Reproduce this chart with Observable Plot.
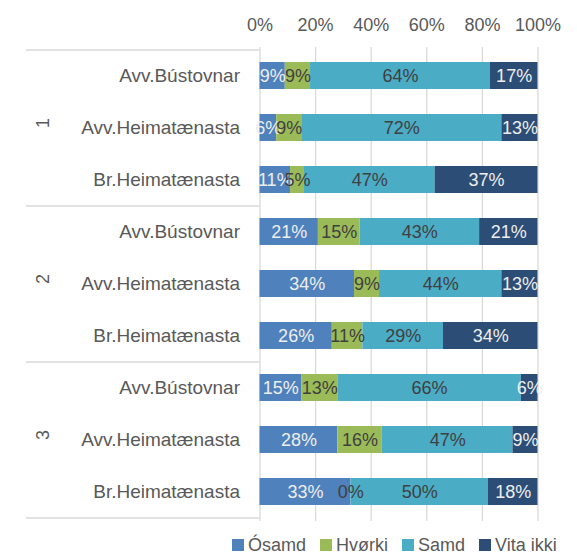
<!DOCTYPE html>
<html><head><meta charset="utf-8">
<script src="https://cdn.jsdelivr.net/npm/d3@7"></script>
<script src="https://cdn.jsdelivr.net/npm/@observablehq/plot@0.6"></script>
<style>
body{margin:0;background:#fff;font-family:"Liberation Sans",Arial,sans-serif;}
#legend{display:flex;align-items:center;margin-left:232px;height:26px;font-size:18px;color:#595959;padding-top:4px;}
.item{display:flex;align-items:center;margin-right:14px;}
.sw{width:12px;height:12px;margin-right:4px;}
</style></head><body><div id="chart"></div><div id="legend"></div><script>
const groups = ["1","2","3"];
const subs = ["Avv.Bústovnar","Avv.Heimatænasta","Br.Heimatænasta"];
const categories = ["Ósamd","Hvørki","Samd","Vita ikki"];
const colors = ["#4f81bd","#9bbb59","#4bacc6","#2c4d75"];
const labelColors = ["#eeeeee","#404040","#404040","#eeeeee"];
const osamd    = [9, 6, 11, 21, 34, 26, 15, 28, 33];
const hvorki   = [9, 9, 5, 15, 9, 11, 13, 16, 0];
const samd     = [64, 72, 47, 43, 44, 29, 66, 47, 50];
const vitaIkki = [17, 13, 37, 21, 13, 34, 6, 9, 18];
const xTicks = [0, 0.2, 0.4, 0.6, 0.8, 1];

const series = [osamd, hvorki, samd, vitaIkki];
const rowKeys = [];
groups.forEach(g => subs.forEach(s => rowKeys.push(g + "|" + s)));
const long = [];
rowKeys.forEach((row, i) => categories.forEach((cat, c) => long.push({row, cat, value: series[c][i]})));
const groupData = groups.map((g, i) => ({g, mid: rowKeys[i * 3 + 1], first: rowKeys[i * 3]}));

const W = 577, H = 528, mTop = 50, mBottom = 10;
const step = (H - mTop - mBottom) / rowKeys.length;
const font = '"Liberation Sans", Arial, sans-serif';

const labelMark = (cats, color) => Plot.text(long, Plot.filter(d => cats.includes(d.cat),
  Plot.stackX({offset: "normalize", x: "value", y: "row", z: "cat", text: d => d.value + "%", fill: color, fontSize: 18})));

const chart = Plot.plot({
  width: W, height: H,
  marginLeft: 259.5, marginRight: 39.5, marginTop: mTop, marginBottom: mBottom,
  style: {fontFamily: font, fontSize: "18px", color: "#595959", background: "#fff"},
  x: {domain: [0, 1], ticks: xTicks, tickFormat: d3.format(".0%"), label: null},
  y: {domain: rowKeys, paddingInner: 0.48, paddingOuter: 0.24, label: null},
  color: {domain: categories, range: colors},
  marks: [
    Plot.ruleX(xTicks, {x: d => d, stroke: "#d9d9d9", strokeWidth: 1.3, insetTop: -3, insetBottom: -3}),
    Plot.ruleY(groupData, {y: "first", dy: -step / 2, stroke: "#d9d9d9", strokeWidth: 1.5, insetLeft: -233.5, insetRight: 278}),
    Plot.ruleY([rowKeys[rowKeys.length - 1]], {y: d => d, dy: step / 2, stroke: "#d9d9d9", strokeWidth: 1.5, insetLeft: -233.5, insetRight: 278}),
    Plot.barX(long, Plot.stackX({offset: "normalize", x: "value", y: "row", fill: "cat"})),
    labelMark(["Ósamd", "Vita ikki"], labelColors[0]),
    labelMark(["Hvørki", "Samd"], labelColors[1]),
    Plot.axisX({anchor: "top", ticks: xTicks, tickSize: 0, tickPadding: 20, fontSize: 18, tickFormat: d3.format(".0%"), label: null}),
    Plot.axisY({tickSize: 0, tickPadding: 20, fontSize: 19, tickFormat: k => k.split("|")[1], label: null}),
    Plot.text(groupData, {y: "mid", text: "g", frameAnchor: "left", dx: -217, rotate: -90, fontSize: 18, fill: "#595959"})
  ]
});
document.getElementById("chart").appendChild(chart);

const legend = d3.select("#legend");
categories.forEach((c, i) => {
  const it = legend.append("div").attr("class", "item");
  it.append("div").attr("class", "sw").style("background", colors[i]);
  it.append("span").text(c);
});
</script></body></html>
